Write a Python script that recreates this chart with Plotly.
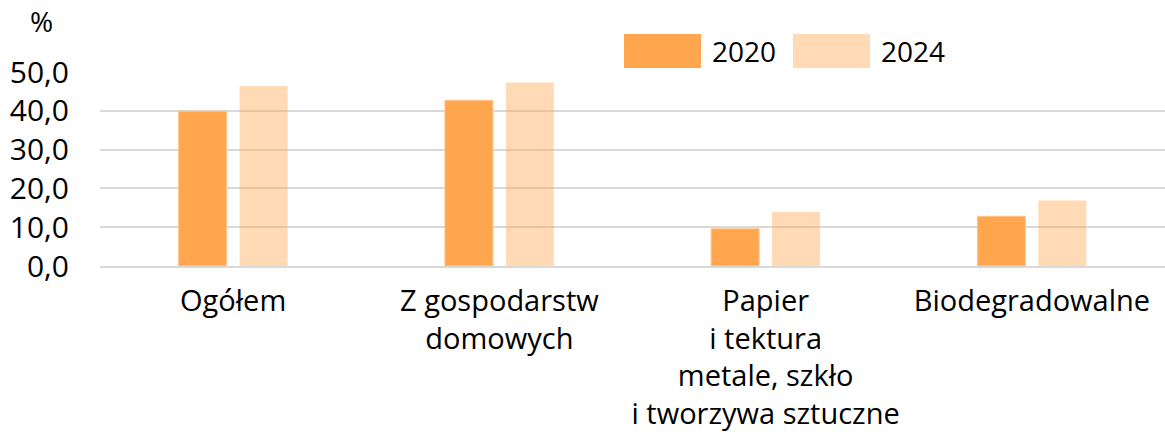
import plotly.graph_objects as go

categories = ["Ogółem", "Z gospodarstw<br>domowych",
              "Papier<br>i tektura<br>metale, szkło<br>i tworzywa sztuczne",
              "Biodegradowalne"]
series_names = ["2020", "2024"]
values_2020 = [39.9, 42.7, 9.6, 12.8]
values_2024 = [46.4, 47.3, 13.9, 16.9]
tick_vals = [0, 10, 20, 30, 40, 50]
tick_text = ["0,0", "10,0", "20,0", "30,0", "40,0", "50,0"]

c2020 = "#FFA64F"
c2024 = "rgba(255,166,79,0.42)"
FONT = "Open Sans, Noto Sans, sans-serif"

fig = go.Figure()
fig.add_bar(x=categories, y=values_2020, name=series_names[0],
            marker=dict(color=c2020, line=dict(color="#FFC48A", width=1)),
            showlegend=False, hoverinfo="skip")
fig.add_bar(x=categories, y=values_2024, name=series_names[1],
            marker=dict(color=c2024, line=dict(width=0)),
            showlegend=False, hoverinfo="skip")

PW, PH = 1065, 194
def px(x):
    return (x - 100) / PW
def py(y):
    return (266 - y) / PH

legend_items = [(series_names[0], c2020, 624), (series_names[1], "#FFDAB5", 793)]
for name, col, x0 in legend_items:
    fig.add_shape(type="rect", xref="paper", yref="paper",
                  x0=px(x0), x1=px(x0 + 77), y0=py(68), y1=py(34),
                  fillcolor=col, line=dict(width=0), layer="above")
    fig.add_annotation(text=name, xref="paper", yref="paper",
                       x=px(x0 + 86), y=py(51),
                       xanchor="left", yanchor="middle", showarrow=False,
                       font=dict(size=28, color="#000000", family=FONT))

fig.add_annotation(text="%", xref="paper", yref="paper",
                   x=px(41), y=py(21),
                   xanchor="center", yanchor="middle", showarrow=False,
                   font=dict(size=28, color="#000000", family=FONT))

fig.update_layout(
    width=1165, height=434,
    margin=dict(l=100, r=0, t=72, b=168, autoexpand=False),
    paper_bgcolor="white", plot_bgcolor="white",
    barmode="group", bargap=0.542, bargroupgap=0.213,
    font=dict(family=FONT, size=29, color="#000000"),
)
fig.update_yaxes(range=[0, 50], tickvals=tick_vals, ticktext=tick_text,
                 showgrid=True, gridcolor="#D9D9D9", gridwidth=2,
                 zeroline=False, showline=False, ticks="",
                 ticklabelstandoff=30,
                 tickfont=dict(size=30, family=FONT, color="#000000"))
fig.update_xaxes(showgrid=False, showline=True, linecolor="#D9D9D9", linewidth=2,
                 ticks="", ticklabelstandoff=8,
                 tickfont=dict(size=29, family=FONT, color="#000000"))

fig.write_html("out.html", config={"displayModeBar": False},
               post_script="document.body.style.margin='0';document.body.style.padding='0';")
